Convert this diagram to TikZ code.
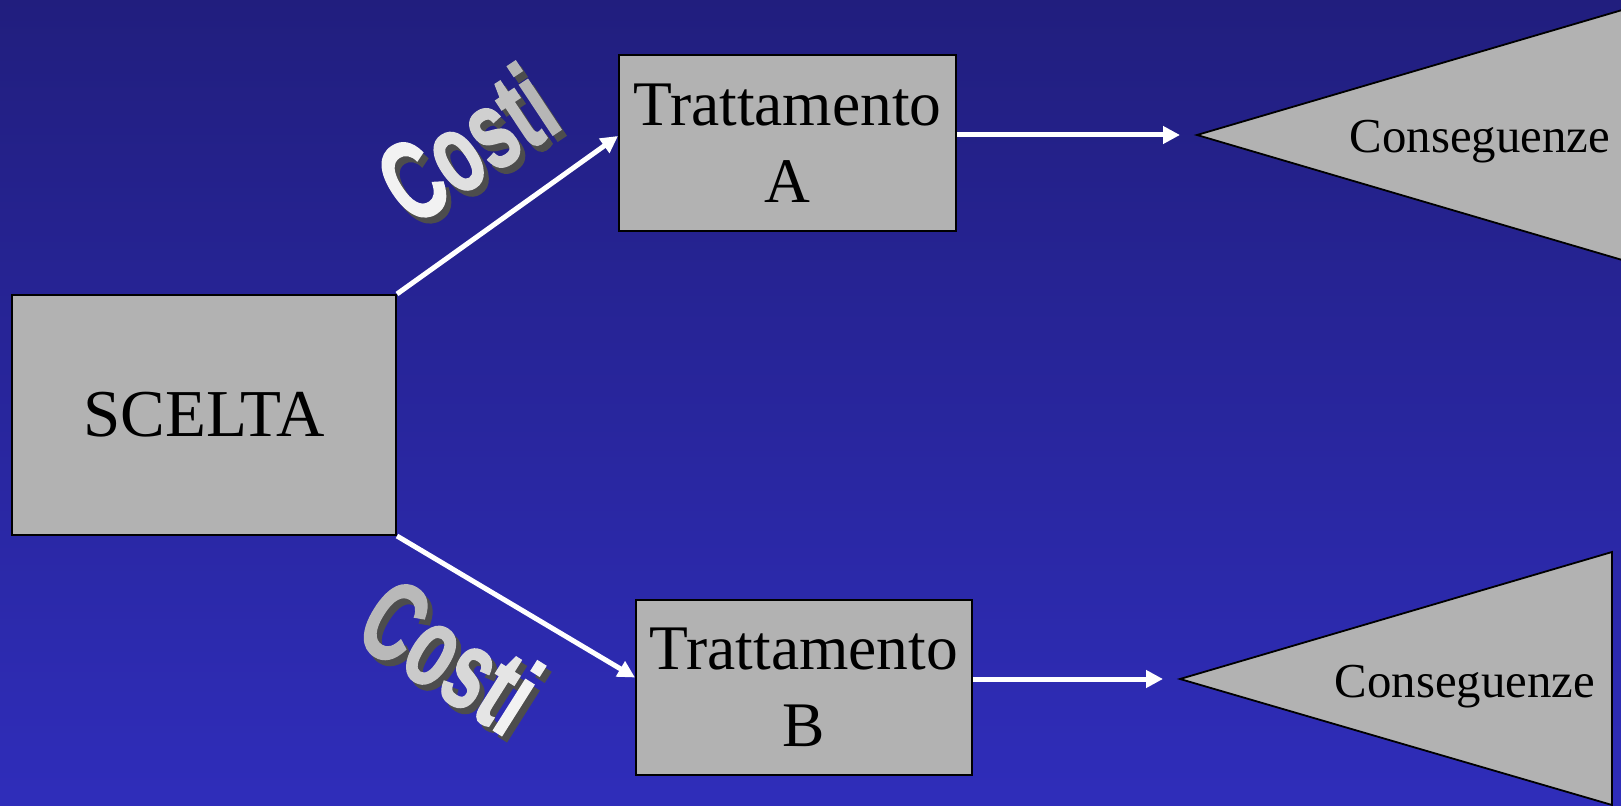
\documentclass[tikz,border=0pt]{standalone}
\usepackage{fontspec}
\setmainfont{Liberation Serif}
\newfontfamily\costifont[BoldFeatures={FakeBold=1.6}]{Liberation Sans}
\usetikzlibrary{arrows.meta,calc}
\definecolor{bgtop}{RGB}{33,30,126}
\definecolor{bgbot}{RGB}{47,45,186}
\definecolor{boxgray}{RGB}{178,178,178}
\definecolor{shadowgray}{RGB}{77,77,77}
\begin{document}
\begin{tikzpicture}[x=0.5pt,y=-0.5pt,
  box/.style={draw=black, line width=1pt, fill=boxgray, inner sep=0pt, align=center,
    font=\fontsize{31.75}{38.5}\selectfont},
  conn/.style={draw=white, line width=2.5pt, -{Triangle[length=8.5pt,width=8.5pt]}},
  tri/.style={draw=black, line width=0.9pt, fill=boxgray},
  cons/.style={font=\fontsize{24.4}{28}\selectfont, anchor=base, inner sep=0pt},
  letter/.style={anchor=base west, inner sep=0pt,
    font=\costifont\bfseries\fontsize{56.5}{60}\selectfont}]
\useasboundingbox (0,0) rectangle (1621,806);
\shade[top color=bgtop, bottom color=bgbot] (0,0) rectangle (1621,806);
\clip (0,0) rectangle (1621,806);

% boxes
\node[box, minimum width=192pt, minimum height=120pt, font=\fontsize{33.5}{40}\selectfont] (S) at (204,415) {SCELTA};
\node[box, minimum width=168.5pt, minimum height=88pt] (A) at (787.5,143) {Trattamento\\A};
\node[box, minimum width=168pt, minimum height=87.5pt] (B) at (804,687.5) {Trattamento\\B};

% triangles
\coordinate (tA) at (1197,135);
\draw[tri] (tA) -- (1629,8) -- (1629,262) -- cycle;
\coordinate (tB) at (1180,679);
\draw[tri] (tB) -- (1612,552) -- (1612,805) -- cycle;
\node[cons] (cA) at (1480,153) {Conseguenze};
\node[cons] (cB) at (1465,697) {Conseguenze};

% connectors
\draw[conn] (S.north east) -- ($(A.west)+(0,-7)$);
\draw[conn] (S.south east) -- ($(B.west)+(0,-10)$);
\draw[conn] (A.east |- tA) -- ($(tA)+(-17,0)$);
\draw[conn] (B.east |- tB) -- ($(tB)+(-17,0)$);

% Costi (top)
\begin{scope}[shift={(417,234)}, rotate=33.5, xscale=0.65, transform shape]
  \node[letter, text=shadowgray] (as1) at (0,0) {C};
  \node[letter, text=shadowgray] (as2) at (81.6,0) {o};
  \node[letter, text=shadowgray] (as3) at (150.6,0) {s};
  \node[letter, text=shadowgray] (as4) at (213.5,0) {t};
  \node[letter, text=shadowgray] (as5) at (251.1,0) {i};
\end{scope}
\begin{scope}[shift={(412,228)}, rotate=33.5, xscale=0.65, transform shape]
  \node[letter, text={rgb,255:red,242;green,242;blue,242}] (al1) at (0,0) {C};
  \node[letter, text={rgb,255:red,224;green,224;blue,224}] (al2) at (81.6,0) {o};
  \node[letter, text={rgb,255:red,208;green,208;blue,208}] (al3) at (150.6,0) {s};
  \node[letter, text={rgb,255:red,193;green,193;blue,193}] (al4) at (213.5,0) {t};
  \node[letter, text={rgb,255:red,182;green,182;blue,182}] (al5) at (251.1,0) {i};
\end{scope}

% Costi (bottom)
\begin{scope}[shift={(356,646)}, rotate=-32.3, xscale=0.65, transform shape]
  \node[letter, text=shadowgray] (bs1) at (0,0) {C};
  \node[letter, text=shadowgray] (bs2) at (81.6,0) {o};
  \node[letter, text=shadowgray] (bs3) at (150.6,0) {s};
  \node[letter, text=shadowgray] (bs4) at (213.5,0) {t};
  \node[letter, text=shadowgray] (bs5) at (251.1,0) {i};
\end{scope}
\begin{scope}[shift={(351,640)}, rotate=-32.3, xscale=0.65, transform shape]
  \node[letter, text={rgb,255:red,185;green,185;blue,185}] (bl1) at (0,0) {C};
  \node[letter, text={rgb,255:red,202;green,202;blue,202}] (bl2) at (81.6,0) {o};
  \node[letter, text={rgb,255:red,216;green,216;blue,216}] (bl3) at (150.6,0) {s};
  \node[letter, text={rgb,255:red,229;green,229;blue,229}] (bl4) at (213.5,0) {t};
  \node[letter, text={rgb,255:red,242;green,242;blue,242}] (bl5) at (251.1,0) {i};
\end{scope}
\end{tikzpicture}
\end{document}
